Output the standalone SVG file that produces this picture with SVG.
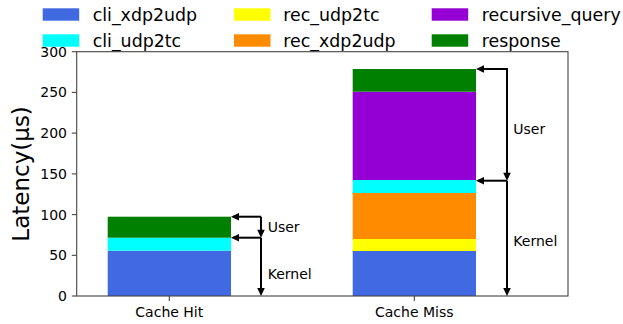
<svg xmlns="http://www.w3.org/2000/svg" width="623" height="324" viewBox="0 0 623 324">
  <style>
    text { font-family: "DejaVu Sans", "Liberation Sans", sans-serif; fill: #000; }
    .tick { font-size: 14px; }
    .leg { font-size: 17.4px; }
    .note { font-size: 14px; }
    .spine { fill: none; stroke: #444; stroke-width: 1.1; }
    .tk { stroke: #444; stroke-width: 1.1; }
    .arr { fill: none; stroke: #000; stroke-width: 2; }
    .head { fill: #000; }
    .c-blue { fill: #4169E1; }
    .c-cyan { fill: #00FFFF; }
    .c-yellow { fill: #FFFF00; }
    .c-orange { fill: #FF8C00; }
    .c-purple { fill: #9400D3; }
    .c-green { fill: #008000; }
  </style>
  <defs>
    <!-- filled arrowhead, tip at the origin, pointing along +x -->
    <path id="tip" d="M0,0 L-8,-3.8 L-8,3.8 Z"/>
  </defs>

  <rect width="623" height="324" fill="#fff"/>

  <!-- legend -->
  <g id="legend">
    <rect class="c-blue" x="42.7" y="8.3" width="36.5" height="12.4"/>
    <text class="leg" x="92.7" y="20.6">cli_xdp2udp</text>
    <rect class="c-cyan" x="42.7" y="34.3" width="36.5" height="12.4"/>
    <text class="leg" x="92.7" y="46.6">cli_udp2tc</text>
    <rect class="c-yellow" x="234" y="8.3" width="36.5" height="12.4"/>
    <text class="leg" x="283.3" y="20.6">rec_udp2tc</text>
    <rect class="c-orange" x="234" y="34.3" width="36.5" height="12.4"/>
    <text class="leg" x="283.3" y="46.6">rec_xdp2udp</text>
    <rect class="c-purple" x="431.7" y="8.3" width="36.5" height="12.4"/>
    <text class="leg" x="481.7" y="20.6">recursive_query</text>
    <rect class="c-green" x="431.7" y="34.3" width="36.5" height="12.4"/>
    <text class="leg" x="481.7" y="46.6">response</text>
  </g>

  <!-- stacked bar: Cache Hit -->
  <g id="bar-cache-hit">
    <rect class="c-blue" x="107.7" y="250.7" width="123.3" height="45.3"/>
    <rect class="c-cyan" x="107.7" y="237.7" width="123.3" height="13"/>
    <rect class="c-green" x="107.7" y="216.7" width="123.3" height="21"/>
  </g>

  <!-- stacked bar: Cache Miss -->
  <g id="bar-cache-miss">
    <rect class="c-blue" x="352.7" y="251" width="123.3" height="45"/>
    <rect class="c-yellow" x="352.7" y="239" width="123.3" height="12"/>
    <rect class="c-orange" x="352.7" y="193" width="123.3" height="46"/>
    <rect class="c-cyan" x="352.7" y="180" width="123.3" height="13"/>
    <rect class="c-purple" x="352.7" y="91.7" width="123.3" height="88.3"/>
    <rect class="c-green" x="352.7" y="69" width="123.3" height="22.7"/>
  </g>

  <!-- axes frame and ticks -->
  <g id="axes">
    <rect class="spine" x="76.7" y="51.7" width="491.3" height="244.3"/>
    <g class="tk">
      <line x1="71.8" y1="296" x2="76.7" y2="296"/>
      <line x1="71.8" y1="255.3" x2="76.7" y2="255.3"/>
      <line x1="71.8" y1="214.6" x2="76.7" y2="214.6"/>
      <line x1="71.8" y1="173.9" x2="76.7" y2="173.9"/>
      <line x1="71.8" y1="133.1" x2="76.7" y2="133.1"/>
      <line x1="71.8" y1="92.4" x2="76.7" y2="92.4"/>
      <line x1="71.8" y1="51.7" x2="76.7" y2="51.7"/>
      <line x1="169.3" y1="296" x2="169.3" y2="300.9"/>
      <line x1="414.3" y1="296" x2="414.3" y2="300.9"/>
    </g>
    <g class="tick" text-anchor="end">
      <text x="67" y="301">0</text>
      <text x="67" y="260.3">50</text>
      <text x="67" y="219.6">100</text>
      <text x="67" y="178.9">150</text>
      <text x="67" y="138.1">200</text>
      <text x="67" y="97.4">250</text>
      <text x="67" y="56.7">300</text>
    </g>
    <g class="tick" text-anchor="middle">
      <text x="169.3" y="316.7">Cache Hit</text>
      <text x="414.3" y="316.7">Cache Miss</text>
    </g>
    <text x="29" y="173.9" font-size="23" text-anchor="middle" transform="rotate(-90 29 173.9)">Latency(μs)</text>
  </g>

  <!-- User / Kernel span arrows -->
  <g id="connectors">
    <!-- Cache Hit -->
    <path class="arr" d="M261,216.7 H233"/>
    <path class="arr" d="M261,237.7 H233"/>
    <path class="arr" d="M261,216.7 V230"/>
    <path class="arr" d="M261,237.7 V288"/>
    <use href="#tip" class="head" transform="translate(231,216.7) rotate(180)"/>
    <use href="#tip" class="head" transform="translate(231,237.7) rotate(180)"/>
    <use href="#tip" class="head" transform="translate(261,237.7) rotate(90)"/>
    <use href="#tip" class="head" transform="translate(261,296) rotate(90)"/>
    <!-- Cache Miss -->
    <path class="arr" d="M507,69 H478"/>
    <path class="arr" d="M507,180.7 H478"/>
    <path class="arr" d="M507,68 V173"/>
    <path class="arr" d="M507,180.7 V288"/>
    <use href="#tip" class="head" transform="translate(476,69) rotate(180)"/>
    <use href="#tip" class="head" transform="translate(476,180.7) rotate(180)"/>
    <use href="#tip" class="head" transform="translate(507,180.7) rotate(90)"/>
    <use href="#tip" class="head" transform="translate(507,296) rotate(90)"/>
  </g>

  <!-- span labels -->
  <g id="labels" class="note">
    <text x="267.7" y="232.3">User</text>
    <text x="267.7" y="278.5">Kernel</text>
    <text x="513.3" y="134">User</text>
    <text x="513.3" y="245.5">Kernel</text>
  </g>
</svg>
